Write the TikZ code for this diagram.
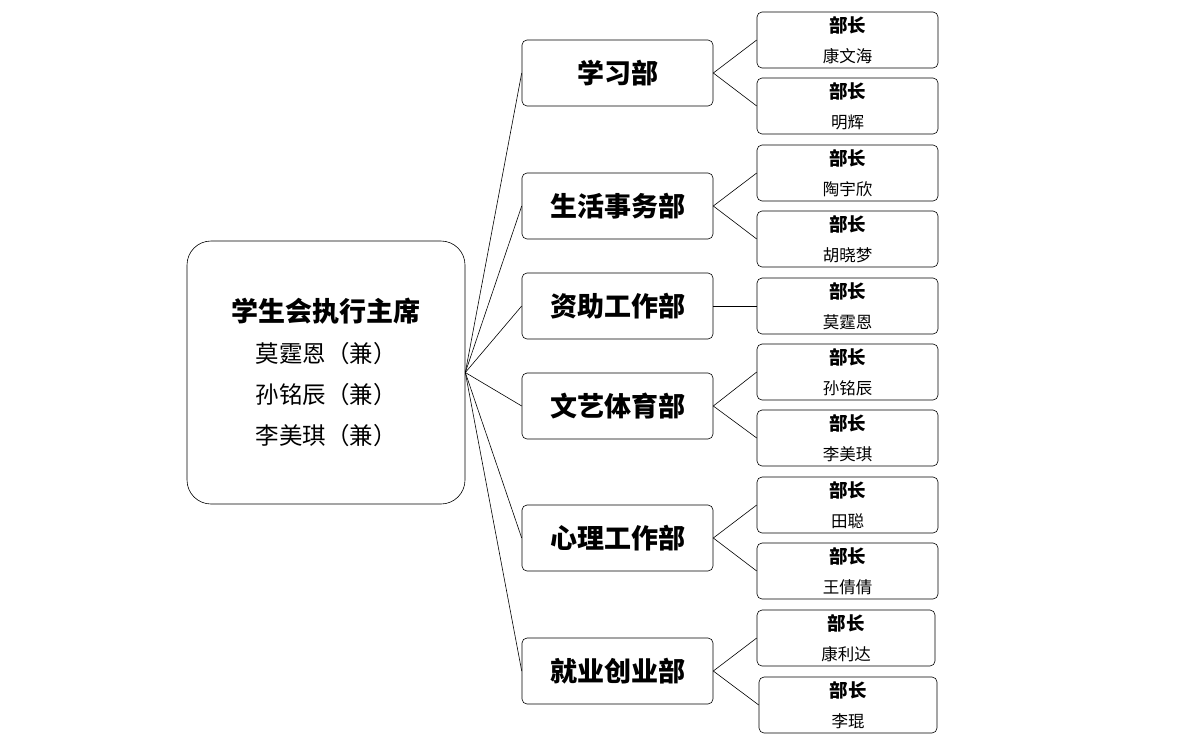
\documentclass[tikz,border=0pt]{standalone}
\usepackage{fontspec}
\setmainfont{Noto Sans CJK SC}
\usepackage{tikz}

\begin{document}
\begin{tikzpicture}[
            x = 1pt, y = -1pt,
            semithick, % line style
            chief/.style = {draw=black, rounded corners=24pt, minimum width=278pt, minimum height=263pt, align=center, font=\fontsize{23.5}{41}\selectfont},
            dept/.style = {draw=black, rounded corners=5pt, minimum width=191pt, minimum height=66pt, font=\fontsize{27}{30}\bfseries\selectfont},
            head/.style = {draw=black, rounded corners=5pt, minimum width=181pt, minimum height=56pt, align=center, font=\fontsize{16.5}{30}\selectfont}
        ]
\useasboundingbox (0,0) rectangle (1188,745);
\node[chief] (C) at (326,372.5) {{\bfseries\fontsize{27}{30}\selectfont 学生会执行主席}\\莫霆恩（兼）\\孙铭辰（兼）\\李美琪（兼）};

\node[dept] (XX) at (617.5,73) {学习部};
\node[dept] (SH) at (617.5,206) {生活事务部};
\node[dept] (ZZ) at (617.5,306) {资助工作部};
\node[dept] (WY) at (617.5,406) {文艺体育部};
\node[dept] (XL) at (617.5,538) {心理工作部};
\node[dept] (JY) at (617.5,671) {就业创业部};

\node[head] (XX1) at (847.5,40) {{\bfseries\fontsize{18.5}{20}\selectfont 部长}\\康文海};
\node[head] (XX2) at (847.5,106) {{\bfseries\fontsize{18.5}{20}\selectfont 部长}\\明辉};
\node[head] (SH1) at (847.5,173) {{\bfseries\fontsize{18.5}{20}\selectfont 部长}\\陶宇欣};
\node[head] (SH2) at (847.5,239) {{\bfseries\fontsize{18.5}{20}\selectfont 部长}\\胡晓梦};
\node[head] (ZZ1) at (847.5,306) {{\bfseries\fontsize{18.5}{20}\selectfont 部长}\\莫霆恩};
\node[head] (WY1) at (847.5,372) {{\bfseries\fontsize{18.5}{20}\selectfont 部长}\\孙铭辰};
\node[head] (WY2) at (847.5,438) {{\bfseries\fontsize{18.5}{20}\selectfont 部长}\\李美琪};
\node[head] (XL1) at (847.5,505) {{\bfseries\fontsize{18.5}{20}\selectfont 部长}\\田聪};
\node[head] (XL2) at (847.5,571) {{\bfseries\fontsize{18.5}{20}\selectfont 部长}\\王倩倩};
\node[head, minimum width=178pt] (JY1) at (846,638) {{\bfseries\fontsize{18.5}{20}\selectfont 部长}\\康利达};
\node[head, minimum width=178pt] (JY2) at (848,705) {{\bfseries\fontsize{18.5}{20}\selectfont 部长}\\李琨};

\foreach \d in {XX,SH,ZZ,WY,XL,JY}
  \path (C.east) edge (\d.west);
\foreach \d/\h in {XX/XX1,XX/XX2,SH/SH1,SH/SH2,ZZ/ZZ1,WY/WY1,WY/WY2,XL/XL1,XL/XL2,JY/JY1,JY/JY2}
  \path (\d.east) edge (\h.west);
\end{tikzpicture}
\end{document}
